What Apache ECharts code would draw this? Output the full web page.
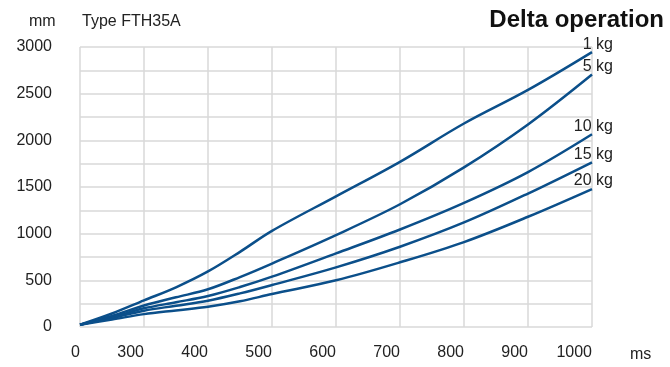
<!DOCTYPE html>
<html>
<head>
<meta charset="utf-8">
<script src="https://cdn.jsdelivr.net/npm/echarts@6/dist/echarts.min.js"></script>
<style>
html,body{margin:0;padding:0;background:#fff;}
#chart{width:670px;height:367px;}
</style>
</head>
<body>
<div id="chart"></div>
<script>
// Axis position 200 is drawn with the tick label "0" (the reference axis jumps from 0 to 300 ms).
const timeMs = [200, 250, 300, 350, 400, 450, 500, 600, 700, 800, 900, 1000];
const xTickLabels = {200: '0', 300: '300', 400: '400', 500: '500', 600: '600', 700: '700', 800: '800', 900: '900', 1000: '1000'};
const seriesNames = ['1 kg', '5 kg', '10 kg', '15 kg', '20 kg'];
const kg1  = [25, 145, 285, 425, 595, 805, 1030, 1400, 1770, 2180, 2540, 2945];
const kg5  = [25, 118, 230, 318, 404, 535, 680, 985, 1315, 1710, 2170, 2705];
const kg10 = [25, 105, 200, 265, 332, 428, 539, 789, 1045, 1330, 1660, 2065];
const kg15 = [25, 95, 175, 228, 282, 360, 450, 639, 860, 1120, 1430, 1765];
const kg20 = [25, 80, 138, 178, 217, 275, 353, 500, 693, 910, 1181, 1478];
const yTickLabels = [0, 500, 1000, 1500, 2000, 2500, 3000];

const allValues = [kg1, kg5, kg10, kg15, kg20];
const lineColor = '#0b4f8a';
const font = 'Liberation Sans, Arial, sans-serif';

const chart = echarts.init(document.getElementById('chart'), null, {renderer: 'canvas'});
chart.setOption({
  animation: false,
  title: [
    {text: 'Delta operation', right: 1, top: 3, textStyle: {fontFamily: font, fontSize: 24, fontWeight: 'bold', color: '#111'}},
    {text: 'Type FTH35A', left: 77, top: 9, textStyle: {fontFamily: font, fontSize: 16, fontWeight: 'normal', color: '#222'}},
    {text: 'mm', left: 24, top: 9, textStyle: {fontFamily: font, fontSize: 16, fontWeight: 'normal', color: '#222'}},
    {text: 'ms', left: 625, top: 342, textStyle: {fontFamily: font, fontSize: 16, fontWeight: 'normal', color: '#222'}}
  ],
  grid: {left: 80, right: 78, top: 47, bottom: 40, containLabel: false},
  xAxis: {
    type: 'value', min: 200, max: 1000, interval: 100,
    axisLine: {show: false}, axisTick: {show: false},
    splitLine: {show: true, lineStyle: {color: '#d9d9d9', width: 1.5}},
    axisLabel: {
      fontFamily: font, fontSize: 16, color: '#222', align: 'right', margin: 18,
      formatter: v => xTickLabels[v] !== undefined ? xTickLabels[v] : ''
    }
  },
  yAxis: {
    type: 'value', min: 0, max: 3000, interval: 250,
    axisLine: {show: false}, axisTick: {show: false},
    splitLine: {show: true, lineStyle: {color: '#d9d9d9', width: 1.5}},
    axisLabel: {
      fontFamily: font, fontSize: 16, color: '#222', margin: 28, padding: [0, 0, 7, 0],
      formatter: v => yTickLabels.includes(v) ? String(v) : ''
    }
  },
  series: seriesNames.map((name, i) => ({
    name: name,
    type: 'line',
    data: timeMs.map((t, j) => [t, allValues[i][j]]),
    showSymbol: false,
    smooth: 0.35,
    lineStyle: {color: lineColor, width: 2.5},
    endLabel: {
      show: true, formatter: '{a}', fontFamily: font, fontSize: 16, color: '#222',
      align: 'right', verticalAlign: 'bottom', distance: 21
    }
  }))
});
</script>
</body>
</html>
